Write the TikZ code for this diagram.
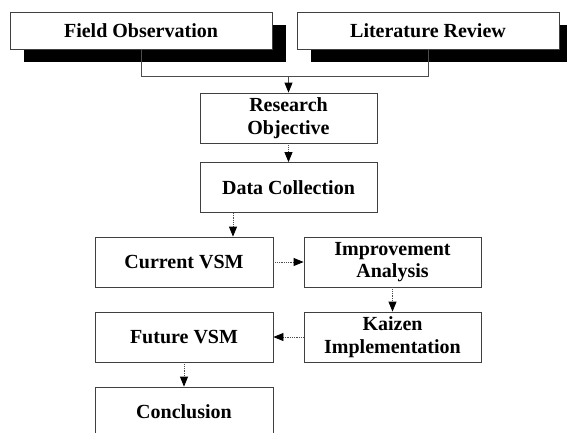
\documentclass[tikz,border=0pt]{standalone}
\usepackage{fontspec}
\setmainfont{Liberation Serif}
\usetikzlibrary{arrows.meta,shadows}
\begin{document}
\begin{tikzpicture}[x=1pt,y=-1pt,
  box/.style={draw=black!75, line width=0.8pt, fill=white, inner sep=0pt,
    minimum width=177pt, minimum height=50pt, align=center,
    font=\fontsize{20}{22.5}\selectfont\bfseries},
  topbox/.style={box, minimum width=262pt, minimum height=37pt,
    drop shadow={shadow xshift=14pt, shadow yshift=-13pt, fill=black, opacity=1}},
  conn/.style={draw=black!70, line width=0.8pt},
  tip/.style={-{Triangle[length=10pt,width=8pt,color=black,fill=black]}},
  dotarrow/.style={conn, densely dotted, tip},
]
\useasboundingbox (0,0) rectangle (567,432);
\begin{scope}
\clip (0,0) rectangle (567,432);
\node[topbox] (fo) at (141,30.5) {Field Observation};
\node[topbox] (lr) at (428,30.5) {Literature Review};
\node[box] (ro) at (288.5,118) {Research\\Objective};
\node[box] (dc) at (288.5,187.5) {Data Collection};
\node[box, minimum width=178pt] (cv) at (184,262) {Current VSM};
\node[box] (ia) at (392.5,262) {Improvement\\Analysis};
\node[box] (ki) at (392.5,337) {Kaizen\\Implementation};
\node[box, minimum width=178pt] (fv) at (184,337) {Future VSM};
\node[box, minimum width=178pt] (cc) at (184,412) {Conclusion};
\coordinate (j) at (288.5,76);
\draw[conn] (fo.south) |- (j);
\draw[conn] (lr.south) |- (j);
\draw[conn, tip] (j) -- (ro.north);
\draw[dotarrow] (ro.south) -- (dc.north);
\draw[dotarrow] ([xshift=-55.5pt]dc.south) -- ([xshift=-55.5pt]dc.south |- cv.north);
\draw[dotarrow] (cv.east) -- (ia.west);
\draw[dotarrow] (ia.south) -- (ki.north);
\draw[dotarrow] (ki.west) -- (fv.east);
\draw[dotarrow] (fv.south) -- (cc.north);
\end{scope}
\end{tikzpicture}
\end{document}
